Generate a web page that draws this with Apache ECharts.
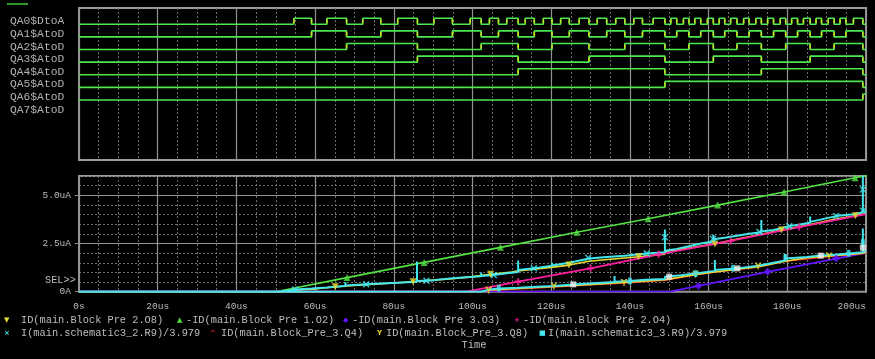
<!DOCTYPE html>
<html>
<head>
<meta charset="utf-8">
<script src="https://cdn.jsdelivr.net/npm/echarts@6.0.0/dist/echarts.min.js"></script>
<style>
  html, body { margin: 0; padding: 0; background: #000; }
  #chart { width: 875px; height: 359px; }
</style>
</head>
<body>
<div id="chart"></div>
<script>
// counter step times (us): time at which the QA counter reaches 1, 2, 3 ... 64
const countTimes = [54.6, 59.1, 63.0, 68.0, 72.1, 76.7, 81.0, 86.0, 90.2, 94.9,
  99.4, 102.2, 104.3, 106.6, 108.7, 111.6, 113.4, 115.7, 118.0, 120.2,
  122.4, 124.6, 127.1, 129.6, 131.7, 134.1, 136.4, 138.7, 141.0, 143.2,
  145.9, 148.9, 150.4, 151.9, 153.6, 155.0, 156.5, 158.0, 159.7, 161.2,
  162.7, 164.1, 165.6, 167.2, 168.9, 170.3, 172.0, 173.4, 175.0, 176.5,
  178.2, 179.6, 181.1, 182.6, 184.1, 185.8, 187.3, 188.7, 190.4, 191.9,
  193.4, 194.9, 196.8, 199.2]
const signalNames = ['QA0$DtoA', 'QA1$AtoD', 'QA2$AtoD', 'QA3$AtoD', 'QA4$AtoD', 'QA5$AtoD', 'QA6$AtoD', 'QA7$AtoD']
const drawnBits = 7 // QA7 has no trace

// x / y tick labels
const xTickValues = [0, 20, 40, 60, 80, 100, 120, 140, 160, 180, 200]
const xTickLabels = ['0s', '20us', '40us', '60us', '80us', '100us', '120us', '140us', '160us', '180us', '200us']
const yTickValues = [0, 2.5, 5]
const yTickLabels = ['0A', '2.5uA', '5.0uA']

// analog traces [time us, current uA]
const idO8 = [[0, 0], [51, 0], [55, 0.07], [60, 0.14], [65.1, 0.26], [70, 0.33], [75, 0.39], [80, 0.45], [84.9, 0.52],
  [90, 0.6], [95, 0.68], [100, 0.78], [104.6, 0.9], [110, 1.02], [111.6, 1.08], [115, 1.15], [120, 1.26], [124.5, 1.38],
  [129.6, 1.58], [135, 1.68], [142.2, 1.81], [148.9, 1.95], [148.9, 2.08], [155, 2.27], [161.6, 2.48], [167, 2.72],
  [173.4, 2.98], [178.5, 3.2], [185.8, 3.48], [192, 3.76], [197.3, 3.94], [200, 4.05]]
const idO2 = [[0, 0], [50, 0], [68.1, 0.73], [87.7, 1.52], [107.1, 2.3], [126.5, 3.08], [144.6, 3.78], [162.3, 4.49], [179.2, 5.17], [197.2, 5.91], [200, 6.02]]
const idO3 = [[0, 0], [150.2, 0], [157.4, 0.3], [175, 1.03], [192.4, 1.72], [200, 2.02]]
const idO4 = [[0, 0], [98.5, 0], [111.6, 0.52], [130, 1.21], [147.3, 1.94], [165.6, 2.63], [183, 3.35], [200, 4.02]]
const iR9a = [[0, 0], [51, 0], [54.9, 0.12], [59.1, 0.17], [63, 0.22], [67.7, 0.3], [67.7, 0.5], [67.7, 0.32], [73, 0.38],
  [76.7, 0.42], [81, 0.47], [85.9, 0.52], [85.9, 1.57], [85.9, 0.55], [90.2, 0.6], [94.9, 0.7], [99.4, 0.76],
  [102.2, 0.8], [102.2, 1.0], [102.2, 0.82], [105.4, 0.87], [108.7, 0.96], [111.6, 1.02], [111.6, 1.62], [111.6, 1.12],
  [115.6, 1.21], [118, 1.28], [120.2, 1.34], [120.2, 1.5], [120.2, 1.36], [124.6, 1.5], [129.6, 1.72], [134.1, 1.8],
  [138.7, 1.87], [144.3, 1.98], [148.9, 2.05], [148.9, 3.23], [148.9, 2.12], [151.9, 2.22], [155, 2.36], [158, 2.5],
  [161.2, 2.6], [161.2, 2.95], [161.2, 2.72], [164.1, 2.8], [167.2, 2.9], [170.3, 3.0], [173.4, 3.08], [173.4, 3.72],
  [173.4, 3.12], [176.5, 3.2], [180.5, 3.4], [185.8, 3.58], [185.8, 3.9], [185.8, 3.62], [188.7, 3.75], [192.4, 3.92],
  [196.8, 4.02], [199.2, 4.12], [199.2, 6.02], [199.2, 4.14], [200, 4.18]]
const idQ4 = [[0, 0], [102.5, 0], [104.1, 0.07], [110, 0.13], [120.7, 0.25], [130, 0.36], [138.5, 0.46], [148.9, 0.6],
  [156.7, 0.88], [161.6, 1.02], [172.6, 1.28], [179.4, 1.58], [190.5, 1.83], [199.2, 1.98], [200, 2.03]]
const idQ8 = [[0, 0], [102.5, 0], [104.1, 0.09], [110, 0.15], [120.7, 0.27], [125.6, 0.33], [130, 0.38], [138.5, 0.48],
  [148.9, 0.62], [148.9, 0.72], [156.7, 0.9], [161.6, 1.02], [161.6, 1.08], [167.2, 1.17], [172.6, 1.3], [179.4, 1.58],
  [179.4, 1.66], [185, 1.76], [190.5, 1.85], [195.5, 1.93], [199.2, 2.0], [200, 2.05]]
const iR9b = [[0, 0], [102.2, 0], [102.2, 0.1], [104.3, 0.12], [106.6, 0.16], [111.6, 0.2], [117.7, 0.27], [120.7, 0.3],
  [125.6, 0.37], [129.6, 0.42], [136.1, 0.5], [136.1, 0.82], [136.1, 0.52], [139.8, 0.55], [144, 0.62], [148.9, 0.66],
  [148.9, 0.78], [153, 0.85], [156.7, 0.95], [161.6, 1.08], [161.6, 1.64], [161.6, 1.12], [167.2, 1.21], [172.6, 1.35],
  [176.5, 1.5], [179.4, 1.62], [179.4, 1.95], [179.4, 1.72], [185, 1.8], [188.5, 1.88], [192, 1.92], [195.5, 1.98],
  [199.2, 2.05], [199.2, 3.28], [199.2, 2.07], [200, 2.1]]

// marker positions on the traces
const markO8 = [[65.1, 0.26], [84.9, 0.52], [104.6, 0.9], [124.5, 1.38], [142.2, 1.81], [161.6, 2.48], [178.5, 3.2], [197.3, 3.94]]
const markO2 = [[68.1, 0.73], [87.7, 1.52], [107.1, 2.3], [126.5, 3.08], [144.6, 3.78], [162.3, 4.49], [179.2, 5.17], [197.2, 5.91]]
const markO3 = [[157.4, 0.3], [175, 1.03], [192.4, 1.72]]
const markO4 = [[111.6, 0.52], [130, 1.21], [147.3, 1.94], [165.6, 2.63], [183, 3.35]]
const markR9a = [[54.9, 0.12], [73, 0.38], [88.3, 0.57], [105.4, 0.87], [115.6, 1.21], [129.4, 1.76], [144.3, 1.99],
  [148.9, 2.82], [161.1, 2.74], [172.9, 3.1], [180.5, 3.4], [192.4, 3.92], [199.2, 4.2], [199.2, 5.3]]
const markQ8 = [[104.1, 0.09], [120.7, 0.3], [138.5, 0.48], [156.7, 0.9], [172.6, 1.33], [190.6, 1.85]]
const markR9b = [[106.7, 0.18], [140, 0.55], [156.7, 0.95], [166.2, 1.21], [179.5, 1.78], [195.6, 1.99], [199.2, 2.56]]
const markR9bWhite = [[125.6, 0.38], [150, 0.78], [167.3, 1.21], [188.5, 1.87], [199.2, 2.28]]

const seriesNames = ['ID(main.Block Pre 2.O8)', '-ID(main.Block Pre 1.O2)', '-ID(main.Block Pre 3.O3)', '-ID(main.Block Pre 2.O4)',
  'I(main.schematic3_2.R9)/3.979', 'ID(main.Block_Pre_3.Q4)', 'ID(main.Block_Pre_3.Q8)', 'I(main.schematic3_3.R9)/3.979']

// colours
const cGrid = '#929292'
const cDot = '#6c6c6c'
const cText = '#bdbdbd'
const cDig = '#4ee84e'
const cEdge = '#e2e21c'
const cYellow = '#e8dc30'
const cGreen = '#52e242'
const cPurple = '#6214ff'
const cMagenta = '#ff1ea0'
const cCyan = '#44e6ec'
const cRed = '#ff2a2a'
const mono = '"Liberation Mono", "DejaVu Sans Mono", monospace'

// digital rows layout (pixels)
const topY = 8, topH = 152
const rowLow = i => 24.3 + 12.62 * i
const levelPx = 6

// step data for one counter bit, and the times where it toggles
const bitSteps = (bit) => {
  const pts = [[0, 0]]
  let prev = 0
  countTimes.forEach((t, k) => {
    const v = ((k + 1) >> bit) & 1
    if (v !== prev) { pts.push([t, v]); prev = v }
  })
  pts.push([200, prev])
  return pts
}
const bitEdges = (bit) => bitSteps(bit).slice(1, -1).map(p => [p[0], 0.5])

const solidSplit = { show: true, lineStyle: { color: cGrid, width: 1.2 } }
const dotSplit = { show: true, lineStyle: { color: cDot, width: 1, type: [2, 2] } }
const hidden = { axisLine: { show: false }, axisTick: { show: false }, axisLabel: { show: false } }

const xAxis = [
  { type: 'value', gridIndex: 0, min: 0, max: 200, interval: 5, position: 'top', ...hidden, splitLine: dotSplit },
  { type: 'value', gridIndex: 0, min: 0, max: 200, interval: 20, ...hidden, splitLine: solidSplit },
  { type: 'value', gridIndex: 1, min: 0, max: 200, interval: 5, position: 'top', ...hidden, splitLine: dotSplit },
  {
    type: 'value', gridIndex: 1, min: 0, max: 200, interval: 20,
    axisLine: { show: false }, axisTick: { show: false },
    axisLabel: {
      color: cText, fontFamily: mono, fontSize: 9.5, margin: 10,
      formatter: v => xTickLabels[xTickValues.indexOf(v)] || '',
      alignMaxLabel: 'right'
    },
    splitLine: solidSplit
  }
]

const yAxis = [
  { type: 'value', gridIndex: 1, min: 0, max: 6, interval: 0.5, position: 'right', ...hidden, splitLine: dotSplit },
  {
    type: 'value', gridIndex: 1, min: 0, max: 6, interval: 2.5,
    axisLine: { show: false },
    axisTick: { show: true, length: 4, customValues: yTickValues, lineStyle: { color: cGrid } },
    axisLabel: {
      color: cText, fontFamily: mono, fontSize: 9.5, margin: 8,
      customValues: yTickValues,
      formatter: v => yTickLabels[yTickValues.indexOf(v)] || ''
    },
    splitLine: solidSplit
  }
]
for (let i = 0; i < drawnBits; i++) {
  const max = (rowLow(i) - topY) / levelPx
  yAxis.push({ type: 'value', gridIndex: 0, show: false, min: max - topH / levelPx, max: max })
}

const series = []
for (let i = 0; i < drawnBits; i++) {
  series.push({
    type: 'line', xAxisIndex: 1, yAxisIndex: 2 + i, step: 'end',
    data: bitSteps(i), showSymbol: false, symbol: 'none', silent: true,
    lineStyle: { width: 1.6, color: cDig }
  })
  // yellow transition marks
  series.push({
    type: 'scatter', xAxisIndex: 1, yAxisIndex: 2 + i, data: bitEdges(i),
    symbol: 'rect', symbolSize: [1.6, 4], silent: true, itemStyle: { color: cEdge }, z: 3
  })
}

const trace = (data, color, width) => ({
  type: 'line', xAxisIndex: 3, yAxisIndex: 1, data, showSymbol: false, symbol: 'none', silent: true,
  lineStyle: { color, width }, itemStyle: { color }
})
const marks = (data, symbol, color, size, rotate) => ({
  type: 'scatter', xAxisIndex: 3, yAxisIndex: 1, data, symbol, symbolSize: size, symbolRotate: rotate || 0,
  silent: true, itemStyle: { color }, z: 4
})

const xPath = 'path://M0,1.5L1.5,0L5,3.5L8.5,0L10,1.5L6.5,5L10,8.5L8.5,10L5,6.5L1.5,10L0,8.5L3.5,5Z'
const plusPath = 'path://M3.5,0H6.5V3.5H10V6.5H6.5V10H3.5V6.5H0V3.5H3.5Z'
const yPath = 'path://M0,0L3,0L5,3.5L7,0L10,0L6,6L6,10L4,10L4,6Z'

series.push(
  trace(idO8, cYellow, 1.6),
  trace(idO2, cGreen, 1.6),
  trace(idO3, cPurple, 1.8),
  trace(idO4, cMagenta, 1.8),
  trace(iR9a, cCyan, 2),
  trace(idQ4, cRed, 1.6),
  trace(idQ8, cYellow, 1.6),
  trace(iR9b, cCyan, 2),
  marks(markO8, 'triangle', cYellow, 7, 180),
  marks(markO2, 'triangle', cGreen, 7),
  marks(markO3, 'diamond', cPurple, 8),
  marks(markO4, plusPath, cMagenta, 7),
  marks(markR9a, xPath, cCyan, 7),
  marks(markQ8, yPath, cYellow, 7),
  marks(markR9b, 'roundRect', cCyan, [4, 7]),
  marks(markR9bWhite, 'rect', '#f2f2f2', 6)
)

// text graphics: signal names, legend, misc
const graphic = []
signalNames.forEach((name, i) => {
  graphic.push({
    type: 'text', x: 10, y: rowLow(i) - levelPx / 2,
    style: { text: name, fill: '#b0b0b0', font: '11.3px ' + mono, align: 'left', verticalAlign: 'middle' }
  })
})
graphic.push({ type: 'line', shape: { x1: 7, y1: 4, x2: 28, y2: 4 }, style: { stroke: '#3ccc3c', lineWidth: 1.5 } })
graphic.push({
  type: 'text', x: 45, y: 280,
  style: { text: 'SEL>>', fill: cText, font: '10.3px ' + mono, verticalAlign: 'middle' }
})
graphic.push({
  type: 'text', x: 474, y: 345,
  style: { text: 'Time', fill: cText, font: '10.4px ' + mono, align: 'center', verticalAlign: 'middle' }
})
const legendGlyphs = ['▼', '▲', '◆', '+', '×', '^', 'Y', '■']
const legendColors = [cYellow, cGreen, cPurple, cMagenta, cCyan, cRed, cYellow, cCyan]
const legendMarkX = [4, 177, 343, 514, 4, 210, 377, 539]
const legendTextX = [21, 186, 352, 523, 21, 221, 386, 548]
seriesNames.forEach((name, i) => {
  const y = i < 4 ? 320 : 333.5
  graphic.push({
    type: 'text', x: legendMarkX[i], y: y,
    style: { text: legendGlyphs[i], fill: legendColors[i], font: 'bold 7px "DejaVu Sans"', verticalAlign: 'middle' }
  })
  graphic.push({
    type: 'text', x: legendTextX[i], y: y,
    style: { text: name, fill: cText, font: '10.3px ' + mono, verticalAlign: 'middle' }
  })
})

const chart = echarts.init(document.getElementById('chart'))
chart.setOption({
  backgroundColor: '#000',
  animation: false,
  grid: [
    { left: 79, right: 9, top: topY, height: topH, show: true, borderColor: '#9a9a9a', borderWidth: 2, outerBoundsMode: 'none' },
    { left: 79, right: 9, top: 176, bottom: 67.3, show: true, borderColor: '#9a9a9a', borderWidth: 2, outerBoundsMode: 'none' }
  ],
  xAxis,
  yAxis,
  series,
  graphic
})
</script>
</body>
</html>
